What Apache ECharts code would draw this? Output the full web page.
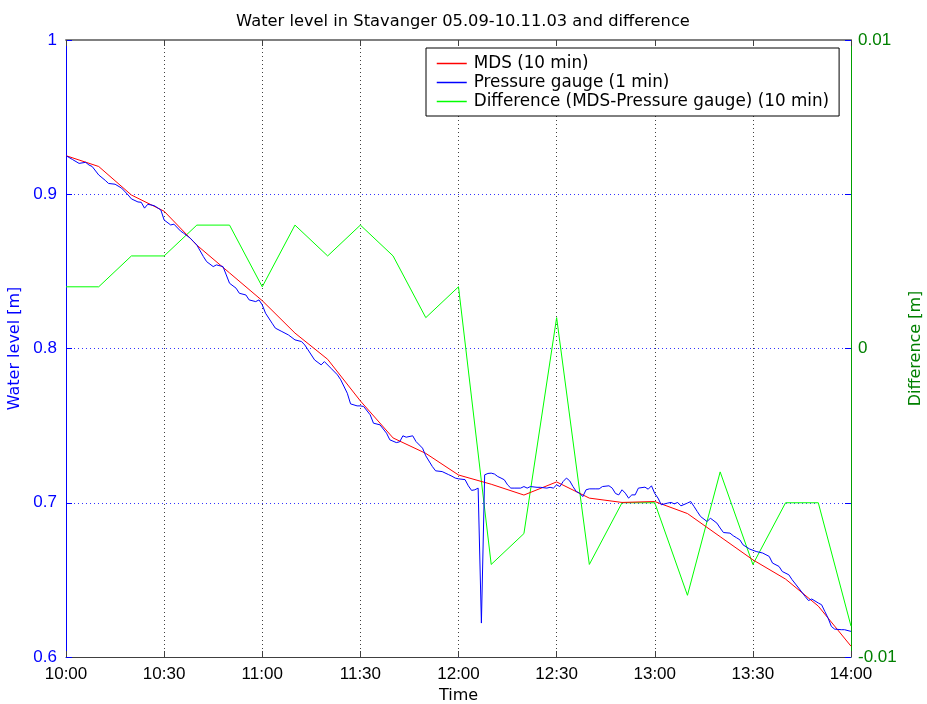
<!DOCTYPE html>
<html>
<head>
<meta charset="utf-8">
<script src="https://cdn.jsdelivr.net/npm/echarts@6/dist/echarts.min.js"></script>
<style>
html,body{margin:0;padding:0;background:#fff;overflow:hidden;}
#chart{width:927px;height:704px;}
</style>
</head>
<body>
<div id="chart"></div>
<script>
// ---- data (minutes after 10:00) ----
const timeTickLabels = ['10:00','10:30','11:00','11:30','12:00','12:30','13:00','13:30','14:00'];

const mdsMinutes = [0,10,20,30,40,50,60,70,80,90,100,110,120,130,140,150,160,170,180,190,200,210,220,230,240];
const mdsValues  = [0.925,0.918,0.8995,0.889,0.867,0.849,0.831,0.810,0.793,0.766,0.742,0.732,0.718,0.712,0.705,0.7135,0.703,0.7002,0.7008,0.693,0.678,0.663,0.6505,0.633,0.607];

const diffValues = [0.002,0.002,0.003,0.003,0.004,0.004,0.002,0.004,0.003,0.004,0.003,0.001,0.002,-0.007,-0.006,0.001,-0.007,-0.005,-0.005,-0.008,-0.004,-0.007,-0.005,-0.005,-0.009];

const gaugeMinutes = [0,2,4,6,7,8,10,12,13,15,17,19,20,22,23,24,25,27,29,30,32,33,35,36,38,39,40,42,43,45,46,48,49,50,52,53,55,56,58,59,60,61,63,64,66,68,70,72,73,74,76,78,79,81,83,84,86,87,89,90,91,93,94,96,98,99,101,102,103,104,106,107,109,110,112,113,115,117,118,119,120,122,123,124,125,126,127,128,129,130,131,132,133,134,135,136,137,139,140,141,142,144,145,147,148,149,150,151,152,153,154,155,156,157,158,159,160,162,163,164,166,167,168,169,170,171,172,173,174,175,177,178,179,180,181,182,184,185,186,187,188,190,191,192,193,194,196,197,199,200,201,203,204,205,206,207,209,211,213,214,215,216,218,219,221,222,224,226,227,228,230,231,232,233,234,235,237,238,240];
const gaugeValues  = [0.925,0.9225,0.920,0.9207,0.919,0.918,0.9125,0.909,0.907,0.9065,0.904,0.8995,0.897,0.895,0.8948,0.891,0.8935,0.8926,0.8898,0.8833,0.8801,0.8806,0.8762,0.8747,0.8715,0.8693,0.8671,0.8596,0.8563,0.8531,0.8542,0.8531,0.8477,0.8423,0.8391,0.8358,0.8347,0.8315,0.8304,0.8315,0.8283,0.8229,0.8164,0.8132,0.8110,0.8088,0.8056,0.8045,0.8023,0.7991,0.7926,0.7894,0.7915,0.7872,0.7829,0.7797,0.7710,0.7641,0.7628,0.7628,0.7624,0.7570,0.7516,0.7505,0.7451,0.7408,0.7390,0.7395,0.7434,0.7425,0.7434,0.7397,0.7354,0.7304,0.7235,0.7207,0.7202,0.7182,0.7172,0.7160,0.7155,0.7150,0.7110,0.7080,0.7084,0.7095,0.6220,0.7181,0.7190,0.7192,0.7186,0.7170,0.7160,0.7149,0.7116,0.7095,0.7095,0.7095,0.7105,0.7095,0.7105,0.7100,0.7100,0.7095,0.7100,0.7095,0.7116,0.7105,0.7138,0.7160,0.7142,0.7105,0.7073,0.7062,0.7040,0.7084,0.7090,0.7090,0.7090,0.7105,0.7110,0.7095,0.7060,0.7051,0.7084,0.7062,0.7030,0.7051,0.7051,0.7095,0.7101,0.7088,0.7110,0.7060,0.7030,0.6987,0.6998,0.7002,0.6993,0.7002,0.6980,0.6998,0.7008,0.6976,0.6943,0.6911,0.6878,0.6900,0.6868,0.6836,0.6807,0.6803,0.6786,0.6773,0.6760,0.6727,0.6700,0.6684,0.6674,0.6663,0.6652,0.6609,0.6587,0.6554,0.6533,0.6501,0.6447,0.6392,0.6366,0.6376,0.6350,0.6339,0.6295,0.6252,0.6198,0.6181,0.6177,0.6177,0.6166];

// ---- build ----
const FONT = "'Liberation Sans', Arial, Helvetica, sans-serif";
const WIDE = "'DejaVu Sans', 'Liberation Sans', Arial, sans-serif";
const mdsData = mdsMinutes.map((m, i) => [m, mdsValues[i]]);
const diffData = mdsMinutes.map((m, i) => [m, diffValues[i]]);
const gaugeData = gaugeMinutes.map((m, i) => [m, gaugeValues[i]]);

const chart = echarts.init(document.getElementById('chart'), null, {renderer: 'canvas', width: 927, height: 704});
chart.setOption({
  backgroundColor: '#ffffff',
  animation: false,
  color: ['#ff0000', '#0000ff', '#00ff00'],
  textStyle: {fontFamily: FONT},
  title: {
    text: 'Water level in Stavanger 05.09-10.11.03 and difference',
    left: 458, top: 9, textAlign: 'center',
    textStyle: {fontFamily: WIDE, fontSize: 16.3, fontWeight: 'normal', color: '#000'}
  },
  legend: {
    orient: 'vertical',
    left: 426, top: 48,
    padding: [6, 10, 5, 10],
    itemGap: 0,
    itemWidth: 30, itemHeight: 14,
    itemStyle: {opacity: 0},
    lineStyle: {width: 1.5},
    backgroundColor: '#fff',
    borderColor: '#000', borderWidth: 1, borderRadius: 0,
    textStyle: {fontFamily: WIDE, fontSize: 16.8, color: '#000', padding: [0, 0, 0, 2], lineHeight: 19},
    data: [
      {name: 'MDS (10 min)', lineStyle: {color: '#ff0000'}},
      {name: 'Pressure gauge (1 min)', lineStyle: {color: '#0000ff'}},
      {name: 'Difference (MDS-Pressure gauge) (10 min)', lineStyle: {color: '#00ff00'}}
    ]
  },
  grid: {left: 66, top: 40, width: 785, height: 617, containLabel: false, outerBoundsMode: 'none'},
  xAxis: [{
    type: 'value', min: 0, max: 240, interval: 30, position: 'bottom',
    name: 'Time', nameLocation: 'middle', nameGap: 29,
    nameTextStyle: {fontFamily: WIDE, fontSize: 16, color: '#000'},
    axisLine: {show: true, onZero: false, lineStyle: {color: '#404040', width: 1}},
    axisTick: {show: true, inside: true, length: 6, lineStyle: {color: '#404040'}},
    axisLabel: {fontFamily: FONT, fontSize: 17, color: '#000', margin: 9,
      formatter: v => timeTickLabels[Math.round(v / 30)]},
    splitLine: {show: true, lineStyle: {color: '#404040', type: [1, 3], width: 1}}
  }, {
    type: 'value', min: 0, max: 240, interval: 30, position: 'top',
    axisLine: {show: true, onZero: false, lineStyle: {color: '#808080', width: 2}},
    axisTick: {show: true, inside: true, length: 6, lineStyle: {color: '#404040'}},
    axisLabel: {show: false},
    splitLine: {show: false}
  }],
  yAxis: [{
    type: 'value', min: 0.6, max: 1, interval: 0.1, position: 'left',
    name: 'Water level [m]', nameLocation: 'middle', nameGap: 32, nameRotate: 90,
    nameTextStyle: {fontFamily: WIDE, fontSize: 16, color: '#0000ff'},
    axisLine: {show: true, onZero: false, lineStyle: {color: '#0000ff', width: 1}},
    axisTick: {show: true, inside: true, length: 6, lineStyle: {color: '#0000ff'}},
    axisLabel: {fontFamily: FONT, fontSize: 17, color: '#0000ff', margin: 9},
    splitLine: {show: true, lineStyle: {color: '#0000ff', type: [1, 3], width: 1, opacity: 0.8}}
  }, {
    type: 'value', min: -0.01, max: 0.01, interval: 0.01, position: 'right',
    name: 'Difference [m]', nameLocation: 'middle', nameGap: 56, nameRotate: 90,
    nameTextStyle: {fontFamily: WIDE, fontSize: 16, color: '#008000'},
    axisLine: {show: true, onZero: false, lineStyle: {color: '#00a000', width: 1}},
    axisTick: {show: true, inside: true, length: 6, lineStyle: {color: '#008000'}},
    axisLabel: {fontFamily: FONT, fontSize: 17, color: '#008000', margin: 7},
    splitLine: {show: false}
  }, {
    type: 'value', min: 0.6, max: 1, interval: 0.1, position: 'right',
    axisLine: {show: false, onZero: false},
    axisTick: {show: true, inside: true, length: 6, lineStyle: {color: '#0000ff'}},
    axisLabel: {show: false},
    splitLine: {show: false}
  }],
  series: [{
    name: 'MDS (10 min)', type: 'line', xAxisIndex: 0, yAxisIndex: 0,
    data: mdsData, symbol: 'none', color: '#ff0000', lineStyle: {color: '#ff0000', width: 1}, itemStyle: {color: '#ff0000'}, z: 3
  }, {
    name: 'Pressure gauge (1 min)', type: 'line', xAxisIndex: 0, yAxisIndex: 0,
    data: gaugeData, symbol: 'none', color: '#0000ff', lineStyle: {color: '#0000ff', width: 1}, itemStyle: {color: '#0000ff'}, z: 4
  }, {
    name: 'Difference (MDS-Pressure gauge) (10 min)', type: 'line', xAxisIndex: 0, yAxisIndex: 1,
    data: diffData, symbol: 'none', color: '#00ff00', lineStyle: {color: '#00ff00', width: 1}, itemStyle: {color: '#00ff00'}, z: 2
  }]
});
</script>
</body>
</html>
